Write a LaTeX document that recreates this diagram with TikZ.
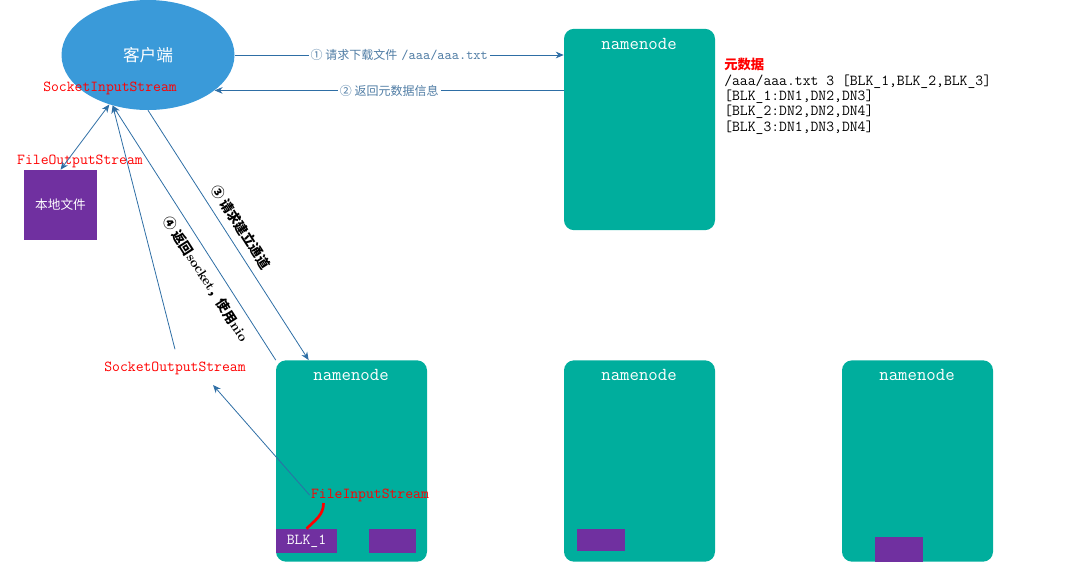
\documentclass[tikz,border=0pt]{standalone}
\usepackage{fontspec}
\setmonofont[Scale=1.143]{Latin Modern Mono}
\newfontfamily\cjk{Noto Sans CJK SC}
\usetikzlibrary{shapes.geometric,arrows.meta,calc}
\definecolor{teal1}{RGB}{0,174,157}
\definecolor{blue1}{RGB}{58,154,217}
\definecolor{purp}{RGB}{112,48,160}
\definecolor{arrc}{RGB}{46,110,165}
\definecolor{labc}{RGB}{80,125,165}
\begin{document}
\begin{tikzpicture}[x=0.75pt,y=-0.75pt,
  >={Stealth[length=6pt,width=5pt]},
  box/.style={draw=none,fill=teal1,rounded corners=7.5pt,minimum width=113.25pt,minimum height=151pt,inner sep=0},
  blk/.style={fill=purp,inner sep=0},
  arr/.style={draw=arrc,line width=0.6pt,->},
  ttl/.style={text=white,font=\ttfamily\fontsize{12}{14}\selectfont,inner sep=0},
  redtxt/.style={text=red,font=\ttfamily\fontsize{10}{12}\selectfont,inner sep=1pt},
  lab/.style={fill=white,text=labc,inner sep=1.5pt,font=\fontsize{9}{11}\selectfont},
  slab/.style={font=\fontsize{10}{12}\selectfont,inner sep=1pt}
]
\useasboundingbox (0,0) rectangle (1066,562);

% client
\node[ellipse,fill=blue1,minimum width=129.75pt,minimum height=82.5pt,inner sep=0,
      text=white,font=\cjk\fontsize{12.5}{14}\selectfont] (client) at (148,55) {客户端};
\node[redtxt] (sis) at (110,88) {SocketInputStream};

% top namenode
\node[box] (nn) at (639.5,129.5) {};
\node[ttl] (nnt) at (639,44) {namenode};
\node[anchor=north west,align=left,inner sep=0,font=\ttfamily\fontsize{10}{11.5}\selectfont] (meta) at (724,58)
  {{\cjk\color{red}\bfseries 元数据}\\/aaa/aaa.txt 3 [BLK\_1,BLK\_2,BLK\_3]\\\relax[BLK\_1:DN1,DN2,DN3]\\\relax[BLK\_2:DN2,DN2,DN4]\\\relax[BLK\_3:DN1,DN3,DN4]};

% local file
\node[blk,minimum width=54.75pt,minimum height=52.5pt,text=white,font=\cjk\fontsize{9.5}{11}\selectfont] (local) at (60.5,205) {本地文件};
\node[redtxt] (fos) at (80,161) {FileOutputStream};

% datanodes
\node[box] (dn1) at (351.5,461) {};
\node[ttl] (dn1t) at (351,375) {namenode};
\node[blk,minimum width=45.75pt,minimum height=18pt,text=white,font=\ttfamily\fontsize{10}{12}\selectfont] (blk1) at (306.5,541) {BLK\_1};
\node[blk,minimum width=35.25pt,minimum height=18pt] (blk1b) at (392.5,541) {};

\node[box] (dn2) at (639.5,461) {};
\node[ttl] (dn2t) at (639,375) {namenode};
\node[blk,minimum width=36pt,minimum height=16.5pt] (blk2) at (601,540) {};

\node[box] (dn3) at (917.5,461) {};
\node[ttl] (dn3t) at (917,375) {namenode};
\node[blk,minimum width=36pt,minimum height=18.75pt] (blk3) at (899,549.5) {};

\node[redtxt] (sos) at (175,368) {SocketOutputStream};
\node[redtxt] (fis) at (370,495) {FileInputStream};
\coordinate (sosin) at (213,385);

% connectors
\draw[arr] (client.east) -- node[lab]{{\cjk ① 请求下载文件} {\ttfamily /aaa/aaa.txt}} (client.east -| nn.west);
\draw[arr] (client.-28 -| nn.west) -- node[lab]{\cjk ② 返回元数据信息} (client.-28);
\draw[arr,<->] (client.-128) -- (local.north);
\draw[arr] (client.south) -- node[slab,sloped,above=5pt,pos=.5]{\cjk\bfseries ③ 请求建立通道} (dn1.113);
\draw[arr] (dn1.north west) -- node[slab,sloped,below=5pt,pos=.35]{{\cjk\bfseries ④ 返回}\textbf{socket}{\cjk\bfseries ，使用}\textbf{nio}} (client.-125);
\draw[arr] ([yshift=8pt]sos.north) -- (client.-125);
\draw[arr] (fis.west) -- (sosin);
\draw[red,line width=2pt] (blk1.north) to[out=45,in=-90] ($(fis.south west)+(14,0)$);
\end{tikzpicture}
\end{document}
